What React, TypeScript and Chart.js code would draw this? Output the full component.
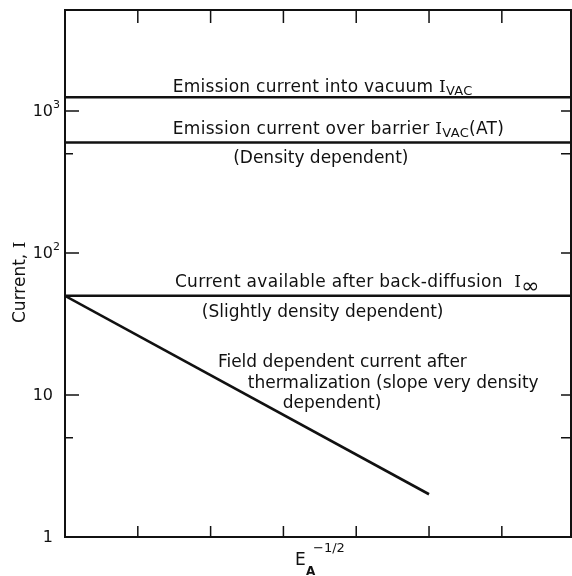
import React, { useEffect, useRef } from 'react';
import { Chart, registerables } from 'chart.js';
Chart.register(...registerables);

// ---- data ----
const xRange = [0, 6.95];
const yRange = [1, 5150];
const lineX = [0, 6.95];
const vacuumCurrent = [1250, 1250];
const barrierCurrent = [600, 600];
const backDiffusionCurrent = [50, 50];
const thermalX = [0, 5];
const thermalY = [50, 2];
const yMajorTicks = [1, 10, 100, 1000];
const yMajorBase = ['1', '10', '10', '10'];
const yMajorExp = ['', '', '2', '3'];
const yMinorTicks = [5, 50, 500];
const xTicks = [1, 2, 3, 4, 5, 6];

const SANS = '"DejaVu Sans", sans-serif';
const SERIF = '"DejaVu Serif", serif';
const INK = '#111';

type Part = { t: string; size?: number; dy?: number; serif?: boolean };
type Note = { x: number; y: number; parts: Part[]; ls?: number };

const notes: Note[] = [
  { x: 1.48, y: 1361, ls: 0.25, parts: [{ t: 'Emission current into vacuum ' }, { t: 'I', serif: true }, { t: 'VAC', size: 13, dy: 3 }] },
  { x: 1.48, y: 689, ls: 0.3, parts: [{ t: 'Emission current over barrier ' }, { t: 'I', serif: true }, { t: 'VAC', size: 13, dy: 3 }, { t: '(AT)' }] },
  { x: 2.31, y: 430, parts: [{ t: '(Density dependent)' }] },
  { x: 1.51, y: 57.6, ls: 0.3, parts: [{ t: 'Current available after back-diffusion  ' }, { t: 'I', serif: true }, { t: '∞', size: 22, dy: 6 }] },
  { x: 1.88, y: 35.4, parts: [{ t: '(Slightly density dependent)' }] },
  { x: 2.1, y: 15.7, parts: [{ t: 'Field dependent current after' }] },
  { x: 2.51, y: 11.2, parts: [{ t: 'thermalization (slope very density' }] },
  { x: 2.99, y: 8.1, parts: [{ t: 'dependent)' }] },
];

function drawRich(ctx: CanvasRenderingContext2D, x: number, y: number, parts: Part[], base = 17, ls = 0) {
  let cx = x;
  (ctx as any).letterSpacing = `${ls}px`;
  for (const p of parts) {
    ctx.font = `${p.size || base}px ${p.serif ? SERIF : SANS}`;
    ctx.fillText(p.t, cx, y + (p.dy || 0));
    cx += ctx.measureText(p.t).width;
  }
  (ctx as any).letterSpacing = '0px';
}

const overlay = {
  id: 'overlay',
  afterDraw(chart: any) {
    const ctx: CanvasRenderingContext2D = chart.ctx;
    const { left, right, top, bottom } = chart.chartArea;
    const xs = chart.scales.x;
    const ys = chart.scales.y;
    ctx.save();
    ctx.strokeStyle = INK;
    ctx.fillStyle = INK;
    // frame
    ctx.lineWidth = 2;
    ctx.strokeRect(left, top, right - left, bottom - top);
    // ticks
    ctx.lineWidth = 1.5;
    ctx.beginPath();
    for (const v of yMajorTicks) {
      const py = ys.getPixelForValue(v);
      if (v > 1) {
        ctx.moveTo(left, py); ctx.lineTo(left + 14, py);
        ctx.moveTo(right, py); ctx.lineTo(right - 10, py);
      }
    }
    for (const v of yMinorTicks) {
      const py = ys.getPixelForValue(v);
      ctx.moveTo(left, py); ctx.lineTo(left + 8, py);
      ctx.moveTo(right, py); ctx.lineTo(right - 10, py);
    }
    for (const v of xTicks) {
      const px = xs.getPixelForValue(v);
      ctx.moveTo(px, bottom); ctx.lineTo(px, bottom - 11);
      ctx.moveTo(px, top); ctx.lineTo(px, top + 13);
    }
    ctx.stroke();
    // y tick labels
    ctx.textBaseline = 'middle';
    yMajorTicks.forEach((v, i) => {
      const py = ys.getPixelForValue(v);
      ctx.font = `16px ${SANS}`;
      ctx.textAlign = 'right';
      ctx.fillText(yMajorBase[i], 53, py + 1);
      if (yMajorExp[i]) {
        ctx.textAlign = 'left';
        ctx.font = `11px ${SANS}`;
        ctx.fillText(yMajorExp[i], 53, py - 6);
      }
    });
    // annotations
    ctx.textAlign = 'left';
    ctx.textBaseline = 'alphabetic';
    for (const n of notes) {
      drawRich(ctx, xs.getPixelForValue(n.x), ys.getPixelForValue(n.y), n.parts, 17, n.ls || 0);
    }
    // y title
    ctx.save();
    ctx.translate(25, 323);
    ctx.rotate(-Math.PI / 2);
    drawRich(ctx, 0, 0, [{ t: 'Current, ' }, { t: 'I', serif: true }]);
    ctx.restore();
    // x title
    drawRich(ctx, 295, 565, [{ t: 'E' }]);
    ctx.font = `bold 12px ${SANS}`;
    ctx.fillText('A', 306, 575);
    ctx.font = `13px ${SANS}`;
    ctx.fillText('−1/2', 313, 552);
    ctx.restore();
  },
};

const pts = (xa: number[], ya: number[]) => xa.map((x, i) => ({ x, y: ya[i] }));

export default function App() {
  const ref = useRef<HTMLCanvasElement>(null);
  useEffect(() => {
    if (!ref.current) return;
    const ds = (data: any) => ({
      data,
      borderColor: INK,
      borderWidth: 2.6,
      pointRadius: 0,
      showLine: true,
      fill: false,
      tension: 0,
    });
    const chart = new Chart(ref.current, {
      type: 'scatter',
      data: {
        datasets: [
          ds(pts(lineX, vacuumCurrent)),
          ds(pts(lineX, barrierCurrent)),
          ds(pts(lineX, backDiffusionCurrent)),
          ds(pts(thermalX, thermalY)),
        ],
      },
      options: {
        responsive: false,
        animation: false,
        devicePixelRatio: 1,
        layout: { padding: { top: 10, right: 1, left: 0, bottom: 0 } },
        plugins: { legend: { display: false }, tooltip: { enabled: false } },
        scales: {
          x: {
            type: 'linear', min: xRange[0], max: xRange[1],
            ticks: { display: false }, grid: { display: false }, border: { display: false },
            afterFit: (s: any) => { s.height = 39; },
          },
          y: {
            type: 'logarithmic', min: yRange[0], max: yRange[1],
            ticks: { display: false }, grid: { display: false }, border: { display: false },
            afterFit: (s: any) => { s.width = 65; },
          },
        },
      },
      plugins: [overlay],
    } as any);
    return () => chart.destroy();
  }, []);
  return (
    <div style={{ position: 'fixed', left: 0, top: 0, width: 572, height: 576, background: '#fff' }}>
      <canvas ref={ref} width={572} height={576} />
    </div>
  );
}
